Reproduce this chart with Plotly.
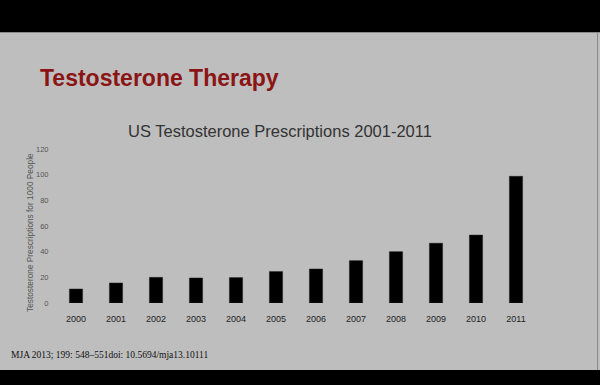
import plotly.graph_objects as go

years = ["2000", "2001", "2002", "2003", "2004", "2005", "2006", "2007", "2008", "2009", "2010", "2011"]
prescriptions = [10.9, 15.6, 20.0, 19.5, 19.8, 24.5, 26.5, 33.0, 40.0, 46.6, 52.9, 98.7]
y_ticks = [0, 20, 40, 60, 80, 100, 120]

W, H = 600, 385
L, R, T, B = 56, 64, 149, 82
pw, ph = W - L - R, H - T - B

def px(x):
    return (x - L) / pw

def py(y):
    return (H - B - y) / ph

fig = go.Figure()
fig.add_trace(go.Bar(
    x=years, y=prescriptions, width=0.33,
    marker=dict(color="#000000", line=dict(color="#222222", width=0.5)),
))

fig.update_layout(
    width=W, height=H,
    margin=dict(l=L, r=R, t=T, b=B, pad=0),
    paper_bgcolor="#bebebe",
    plot_bgcolor="rgba(0,0,0,0)",
    showlegend=False,
    font=dict(family="Liberation Sans, Arial, sans-serif"),
    xaxis=dict(
        type="category", range=[-0.5, 11.5], showgrid=False, zeroline=False,
        showline=False, ticks="outside", ticklen=7, tickcolor="rgba(0,0,0,0)",
        tickfont=dict(size=9, color="#222222"),
    ),
    yaxis=dict(
        range=[0, 120], tickvals=y_ticks, showgrid=False, zeroline=False,
        showline=False, ticks="outside", ticklen=5, tickcolor="rgba(0,0,0,0)",
        tickfont=dict(size=7.5, color="#555555"),
    ),
    shapes=[
        dict(type="rect", xref="paper", yref="paper", x0=px(-5), x1=px(W + 5),
             y0=py(32), y1=py(-5), fillcolor="#000000", line=dict(width=0), layer="below"),
        dict(type="rect", xref="paper", yref="paper", x0=px(-5), x1=px(W + 5),
             y0=py(H + 5), y1=py(370), fillcolor="#000000", line=dict(width=0), layer="below"),
        dict(type="line", xref="paper", yref="paper", x0=px(597.5), x1=px(597.5),
             y0=py(370), y1=py(32), line=dict(color="#8a8a8a", width=1)),
        dict(type="line", xref="paper", yref="paper", x0=px(0), x1=px(W),
             y0=py(32.5), y1=py(32.5), line=dict(color="#8a8a8a", width=1)),
    ],
    annotations=[
        dict(text="<b>Testosterone Therapy</b>", xref="paper", yref="paper",
             x=px(38), y=py(77.5), xanchor="left", yanchor="middle", showarrow=False,
             font=dict(size=23, color="#8b1414")),
        dict(text="US Testosterone Prescriptions 2001-2011", xref="paper", yref="paper",
             x=px(279.5), y=py(131), xanchor="center", yanchor="middle", showarrow=False,
             font=dict(size=16.5, color="#333333")),
        dict(text="Testosterone Prescriptions for 1000 People", xref="paper", yref="paper",
             x=px(30), y=py(233), xanchor="center", yanchor="middle", showarrow=False,
             textangle=-90, font=dict(size=8.3, color="#555555")),
        dict(text="MJA 2013; 199: 548\u2013551doi: 10.5694/mja13.10111", xref="paper", yref="paper",
             x=px(9), y=py(355), xanchor="left", yanchor="middle", showarrow=False,
             font=dict(size=9.5, color="#111111", family="Liberation Serif, Times New Roman, serif")),
    ],
)

fig.write_html(
    "out.html",
    config={"displayModeBar": False},
    post_script="document.body.style.margin='0';document.body.style.padding='0';document.body.style.overflow='hidden';",
)
